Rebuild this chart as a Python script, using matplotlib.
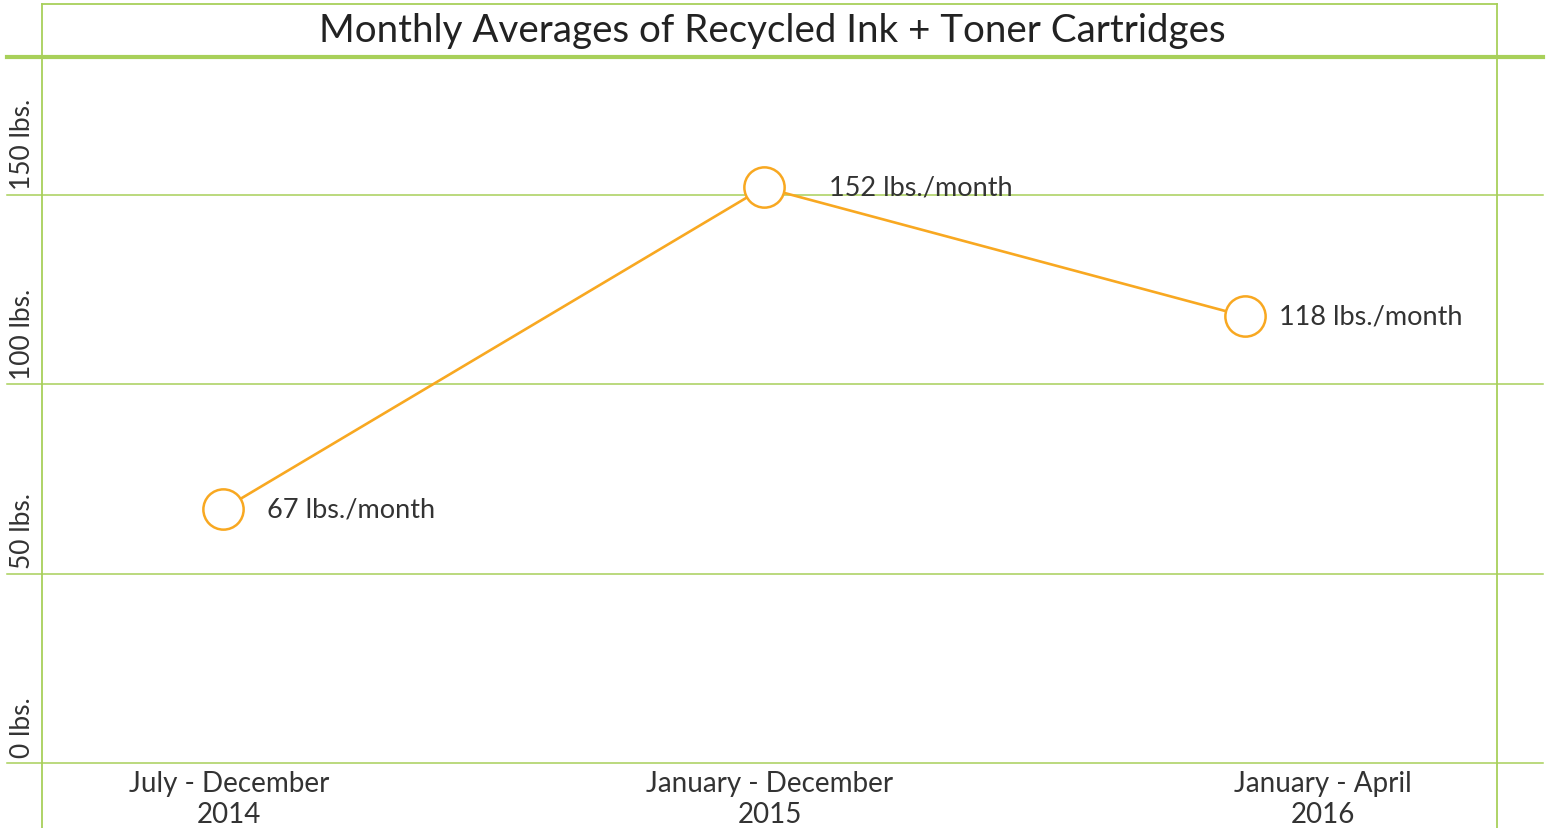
import numpy as np
import matplotlib
matplotlib.use('Agg')
from matplotlib import pyplot as plt
from matplotlib.lines import Line2D

# data: x = month index (months since Jan 2014) at middle of each period
periods = ['July - December\n2014', 'January - December\n2015', 'January - April\n2016']
period_mid = [9, 18, 26]
lbs_per_month = [67, 152, 118]
point_labels = ['67 lbs./month', '152 lbs./month', '118 lbs./month']
y_ticks = [0, 50, 100, 150]
y_tick_labels = ['0 lbs.', '50 lbs.', '100 lbs.', '150 lbs.']
title = 'Monthly Averages of Recycled Ink + Toner Cartridges'

green = '#A8D05A'
orange = '#F8A821'
txt = '#333333'
plt.rcParams['font.family'] = ['Lato', 'DejaVu Sans']

W, H = 1546, 829
fig = plt.figure(figsize=(W / 100, H / 100), dpi=100)
fx = lambda px: px / W
fy = lambda py: 1 - py / H

# plot area: x 42..1497, y 764 (0) .. 58 (top)
ax = fig.add_axes([fx(42), fy(764), fx(1497 - 42), (764 - 58) / H])
ax.set_xlim(5.99, 30.2)
ax.set_ylim(0, 706 / ((764 - 196) / 150))
for s in ax.spines.values():
    s.set_visible(False)
ax.set_xticks([])
ax.set_yticks([])

# frame + title bar
fig.add_artist(Line2D([fx(42), fx(42)], [fy(5), 0], color=green, lw=1.3))
fig.add_artist(Line2D([fx(1497), fx(1497)], [fy(5), 0], color=green, lw=1.3))
fig.add_artist(Line2D([fx(42), fx(1497)], [fy(5), fy(5)], color=green, lw=1.3))
fig.add_artist(Line2D([fx(7), fx(1543)], [fy(58), fy(58)], color=green, lw=3))
fig.text(fx(772), fy(31), title, ha='center', va='center', fontsize=27.7, color='#222222')

# gridlines
ext_l = -35 / 1455
ext_r = 1 + 46 / 1455
for v, lab in zip(y_ticks, y_tick_labels):
    ax.axhline(v, ext_l, ext_r, color=green, lw=1.1, clip_on=False, zorder=1)
    ax.annotate(lab, xy=(0, v), xycoords=('axes fraction', 'data'),
                xytext=(-14, 4), textcoords='offset points', rotation=90,
                ha='center', va='bottom', fontsize=19, color=txt)

# x labels
label_x = [9.1, 18.1, 27.3]
for x, lab in zip(label_x, periods):
    ax.annotate(lab, xy=(x, 0), xycoords='data', xytext=(0, -5),
                textcoords='offset points', ha='center', va='top',
                fontsize=20, color=txt, linespacing=1.25, annotation_clip=False)

ax.plot(period_mid, lbs_per_month, color=orange, lw=1.9, marker='o', ms=29,
        mfc='white', mec=orange, mew=1.8, zorder=3, clip_on=False)

# label offsets in points
label_dx = [32, 47, 25]
for x, y, lab, dx in zip(period_mid, lbs_per_month, point_labels, label_dx):
    ax.annotate(lab, xy=(x, y), xytext=(dx, 0), textcoords='offset points',
                ha='left', va='center', fontsize=19.5, color=txt)

fig.savefig('out.png', dpi=100, facecolor='white')
